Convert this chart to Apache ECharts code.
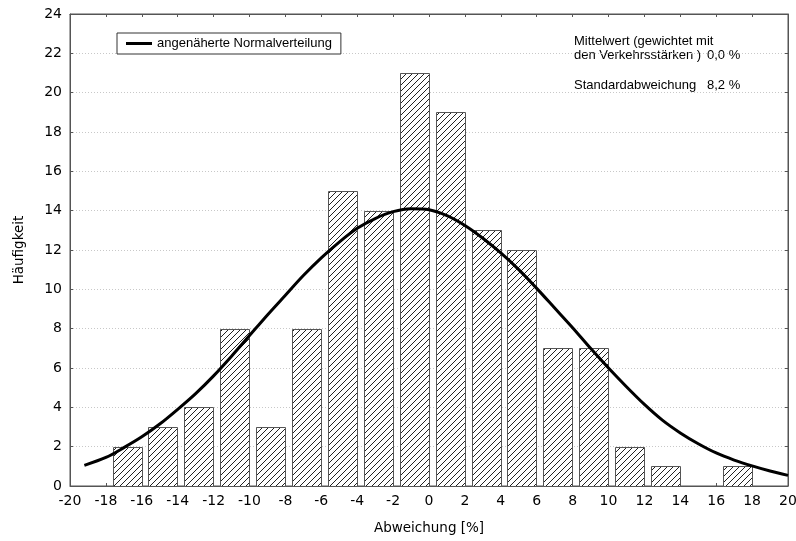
<!DOCTYPE html>
<html>
<head>
<meta charset="utf-8">
<script src="https://cdn.jsdelivr.net/npm/echarts@6/dist/echarts.min.js"></script>
<style>
  html, body { margin: 0; padding: 0; background: #fff; }
  #chart { width: 796px; height: 541px; }
</style>
</head>
<body>
<div id="chart"></div>
<script>
// histogram bins (lower edge, width 2 %)
var binStarts = [-18, -16, -14, -12, -10, -8, -6, -4, -2, 0, 2, 4, 6, 8, 10, 12, 14, 16];
var counts    = [2, 3, 4, 8, 3, 8, 15, 14, 21, 19, 13, 12, 7, 7, 2, 1, 0, 1];

// approximated normal curve
var curveX = [-19.2, -18, -17, -16, -15, -14, -13, -12, -11, -10, -9, -8, -7, -6, -5, -4, -3, -2, -1,
  0, 1, 2, 3, 4, 5, 6, 7, 8, 9, 10, 11, 12, 13, 14, 15, 16, 17, 18, 19, 20];
var curveY = [1.05, 1.45, 1.95, 2.5, 3.15, 3.9, 4.7, 5.6, 6.6, 7.65, 8.7, 9.7, 10.7, 11.6, 12.4, 13.1, 13.6, 13.95, 14.1,
  14.05, 13.75, 13.25, 12.6, 11.85, 11.0, 10.05, 9.05, 8.05, 7.0, 6.0, 5.05, 4.15, 3.35, 2.7, 2.15, 1.68, 1.32, 1.02, 0.76, 0.54];

var xTicks = [-20, 20, 2];
var yTicks = [0, 24, 2];

var curveName = 'angenäherte Normalverteilung';
var statLines = ['Mittelwert (gewichtet mit', 'den Verkehrsstärken )', 'Standardabweichung'];
var statValues = ['0,0 %', '8,2 %'];

function hatchPattern() {
  var c = document.createElement('canvas');
  c.width = 6;
  c.height = 6;
  var ctx = c.getContext('2d');
  ctx.fillStyle = '#fff';
  ctx.fillRect(0, 0, 6, 6);
  ctx.strokeStyle = '#222';
  ctx.lineWidth = 1;
  ctx.beginPath();
  ctx.moveTo(-1, 1); ctx.lineTo(1, -1);
  ctx.moveTo(0, 6); ctx.lineTo(6, 0);
  ctx.moveTo(5, 7); ctx.lineTo(7, 5);
  ctx.stroke();
  return c;
}

var barData = binStarts.map(function (s, i) { return [s, counts[i]]; });
var curveData = curveX.map(function (x, i) { return [x, curveY[i]]; });

var font = 'Liberation Sans, Arial, sans-serif';
var axisFont = 'DejaVu Sans, sans-serif';
var pattern = { image: hatchPattern(), repeat: 'repeat' };

function renderBar(params, api) {
  var lo = api.value(0);
  var p0 = api.coord([lo + 0.37, api.value(1)]);
  var p1 = api.coord([lo + 1.97, 0]);
  if (api.value(1) <= 0) return null;
  return {
    type: 'rect',
    shape: { x: Math.round(p0[0]) + 0.5, y: Math.round(p0[1]) + 0.5,
      width: Math.round(p1[0] - p0[0]), height: Math.round(p1[1] - p0[1]) },
    style: { fill: pattern, stroke: '#555', lineWidth: 1 }
  };
}

var axisCommon = {
  type: 'value',
  axisLine: { show: true, onZero: false, lineStyle: { color: '#555' } },
  axisTick: { show: true, inside: true, length: 3, lineStyle: { color: '#555' } },
  splitLine: { show: false }
};

var option = {
  animation: false,
  backgroundColor: '#fff',
  textStyle: { fontFamily: font },
  grid: {
    left: 70, right: 8, top: 14, bottom: 55,
    outerBoundsMode: 'none',
    show: true, borderColor: '#555', borderWidth: 1
  },
  legend: {
    left: 117, top: 33,
    data: [curveName],
    icon: 'rect',
    itemWidth: 26, itemHeight: 3, itemGap: 0,
    padding: [4, 9],
    borderColor: '#333', borderWidth: 1, borderRadius: 0,
    backgroundColor: '#fff',
    itemStyle: { color: '#000' },
    textStyle: { fontFamily: font, fontSize: 13, color: '#000' }
  },
  xAxis: [
    Object.assign({}, axisCommon, {
      min: xTicks[0], max: xTicks[1], interval: xTicks[2],
      name: 'Abweichung [%]', nameLocation: 'middle', nameGap: 35,
      nameTextStyle: { fontFamily: axisFont, fontSize: 13.5, color: '#000' },
      axisLabel: { fontFamily: axisFont, fontSize: 14, color: '#000', margin: 8 }
    }),
    Object.assign({}, axisCommon, {
      position: 'top', min: xTicks[0], max: xTicks[1], interval: xTicks[2],
      axisLabel: { show: false }
    })
  ],
  yAxis: [
    Object.assign({}, axisCommon, {
      min: yTicks[0], max: yTicks[1], interval: yTicks[2],
      name: 'Häufigkeit', nameLocation: 'middle', nameGap: 44,
      nameTextStyle: { fontFamily: axisFont, fontSize: 13.5, color: '#000' },
      axisLabel: { fontFamily: axisFont, fontSize: 14, color: '#000', margin: 8 },
      splitLine: { show: true, lineStyle: { color: '#c8c8c8', type: [1, 2] } }
    }),
    Object.assign({}, axisCommon, {
      position: 'right', min: yTicks[0], max: yTicks[1], interval: yTicks[2],
      axisLabel: { show: false }
    })
  ],
  graphic: [
    { type: 'text', left: 574, top: 35, style: { text: statLines[0], font: '13px ' + font, fill: '#000' } },
    { type: 'text', left: 574, top: 49, style: { text: statLines[1], font: '13px ' + font, fill: '#000' } },
    { type: 'text', left: 707, top: 49, style: { text: statValues[0], font: '13px ' + font, fill: '#000' } },
    { type: 'text', left: 574, top: 79, style: { text: statLines[2], font: '13px ' + font, fill: '#000' } },
    { type: 'text', left: 707, top: 79, style: { text: statValues[1], font: '13px ' + font, fill: '#000' } }
  ],
  series: [
    {
      name: 'Häufigkeit',
      type: 'custom',
      renderItem: renderBar,
      data: barData,
      encode: { x: 0, y: 1 },
      z: 2
    },
    {
      name: curveName,
      type: 'line',
      data: curveData,
      smooth: 0.3,
      symbol: 'none',
      lineStyle: { color: '#000', width: 3 },
      itemStyle: { color: '#000' },
      z: 3
    }
  ]
};

var myChart = echarts.init(document.getElementById('chart'));
myChart.setOption(option);
</script>
</body>
</html>
